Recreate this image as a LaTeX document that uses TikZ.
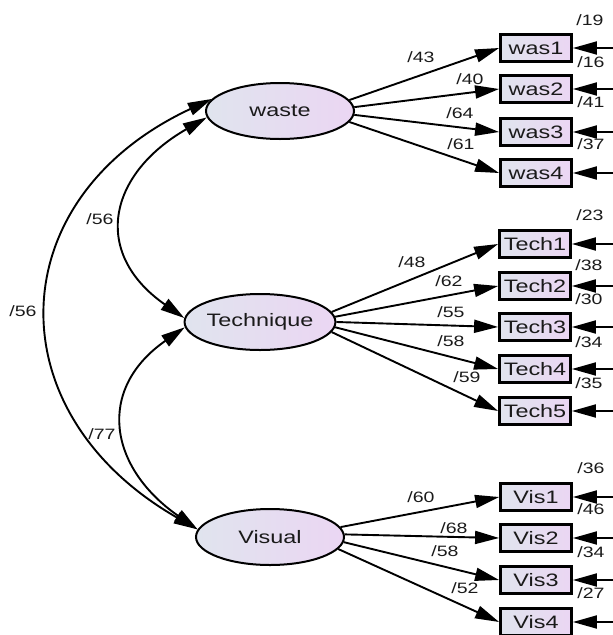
\documentclass[tikz,border=0pt]{standalone}
\usepackage{fontspec}
\setmainfont{Liberation Sans}[FakeStretch=1.3]
\usetikzlibrary{arrows.meta,shapes.geometric}
\definecolor{gl}{HTML}{E0E4EE}
\definecolor{gr}{HTML}{EBD6F3}
\definecolor{txt}{HTML}{1A1A1A}
\begin{document}
\begin{tikzpicture}[x=1pt,y=-1pt,
 lat/.style={ellipse,draw,line width=2pt,minimum width=148pt,minimum height=56pt,inner sep=0pt,left color=gl,right color=gr,text=txt,font=\fontsize{18}{21}\selectfont},
 obs/.style={rectangle,draw,line width=2.8pt,minimum width=71pt,minimum height=27pt,inner sep=0pt,left color=gl,right color=gr,text=txt,font=\fontsize{18}{21}\selectfont},
 lbl/.style={font=\fontsize{15}{17}\selectfont,inner sep=0pt,text=txt},
 arr/.style={line width=1.9pt,-{Triangle[length=24pt,width=13pt]}},
 cov/.style={line width=1.9pt,{Triangle[length=24pt,width=13pt]}-{Triangle[length=24pt,width=13pt]}},
]
\useasboundingbox (0,0) rectangle (613,635);

% latent variables
\node[lat] (waste) at (280,111) {waste};
\node[lat] (tech) at (260,322) {Technique};
\node[lat] (vis) at (270,537) {Visual};

% observed variables
\node[obs] (was1) at (536,48) {was1};
\node[obs] (was2) at (536,89) {was2};
\node[obs] (was3) at (536,132) {was3};
\node[obs] (was4) at (536,173) {was4};
\node[obs] (tech1) at (535,244) {Tech1};
\node[obs] (tech2) at (535,286) {Tech2};
\node[obs] (tech3) at (535,327) {Tech3};
\node[obs] (tech4) at (535,369) {Tech4};
\node[obs] (tech5) at (535,411) {Tech5};
\node[obs] (vis1) at (536,497) {Vis1};
\node[obs] (vis2) at (536,538) {Vis2};
\node[obs] (vis3) at (536,580) {Vis3};
\node[obs] (vis4) at (536,622) {Vis4};

% loadings
\draw[arr] (waste.9) -- (was1.west);
\draw[arr] (waste.3) -- (was2.west);
\draw[arr] (waste.-3) -- (was3.west);
\draw[arr] (waste.-9) -- (was4.west);
\draw[arr] (tech.8) -- (tech1.west);
\draw[arr] (tech.4) -- (tech2.west);
\draw[arr] (tech.0) -- (tech3.west);
\draw[arr] (tech.-4) -- (tech4.west);
\draw[arr] (tech.-8) -- (tech5.west);
\draw[arr] (vis.8) -- (vis1.west);
\draw[arr] (vis.2) -- (vis2.west);
\draw[arr] (vis.-4) -- (vis3.west);
\draw[arr] (vis.-10) -- (vis4.west);

\node[lbl] (l1) at (421,57) {/43};
\node[lbl] (l2) at (470,79) {/40};
\node[lbl] (l3) at (460,113) {/64};
\node[lbl] (l4) at (461,144) {/61};
\node[lbl] (l5) at (412,262) {/48};
\node[lbl] (l6) at (449,281) {/62};
\node[lbl] (l7) at (451,312) {/55};
\node[lbl] (l8) at (451,341) {/58};
\node[lbl] (l9) at (467,377) {/59};
\node[lbl] (l10) at (421,497) {/60};
\node[lbl] (l11) at (454,528) {/68};
\node[lbl] (l12) at (445,551) {/58};
\node[lbl] (l13) at (465,588) {/52};

% error terms (cut off at the right edge)
\foreach \n in {was1,was2,was3,was4,tech1,tech2,tech3,tech4,tech5,vis1,vis2,vis3,vis4}{
  \coordinate (e\n) at (613,0 |- \n.east);
  \draw[arr] (e\n) -- (\n.east);
}

\node[lbl] (r1) at (590,20) {/19};
\node[lbl] (r2) at (591,62) {/16};
\node[lbl] (r3) at (591,102) {/41};
\node[lbl] (r4) at (591,144) {/37};
\node[lbl] (r5) at (590,215) {/23};
\node[lbl] (r6) at (589,265) {/38};
\node[lbl] (r7) at (589,299) {/30};
\node[lbl] (r8) at (589,342) {/34};
\node[lbl] (r9) at (589,383) {/35};
\node[lbl] (r10) at (591,468) {/36};
\node[lbl] (r11) at (591,509) {/46};
\node[lbl] (r12) at (591,552) {/34};
\node[lbl] (r13) at (591,593) {/27};

% covariances
\draw[cov] (waste.170) .. controls +(-212,99) and +(-204,-117) .. (vis.174);
\draw[cov] (waste.185) .. controls +(-99,57) and +(-93,-65) .. (tech.177);
\draw[cov] (tech.184) .. controls +(-89,62) and +(-89,-62) .. (vis.174);

\node[lbl] (c1) at (23,311) {/56};
\node[lbl] (c2) at (100,219) {/56};
\node[lbl] (c3) at (102,434) {/77};
\end{tikzpicture}
\end{document}
